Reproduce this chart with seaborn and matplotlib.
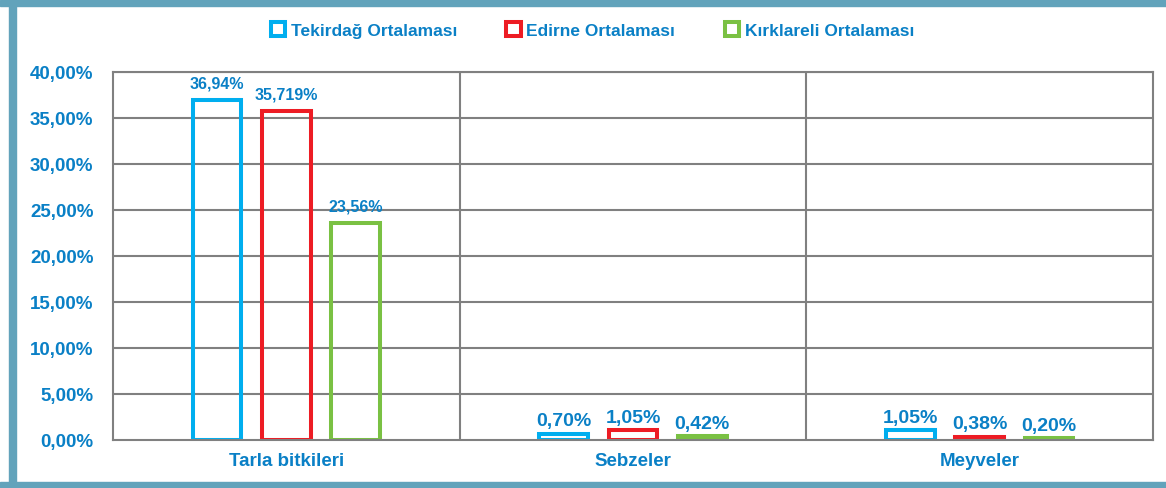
import matplotlib
matplotlib.use("Agg")
import matplotlib.pyplot as plt
from matplotlib.patches import Patch, Rectangle
import seaborn as sns
import pandas as pd

categories = ["Tarla bitkileri", "Sebzeler", "Meyveler"]
series_names = ["Tekirdağ Ortalaması", "Edirne Ortalaması", "Kırklareli Ortalaması"]
tekirdag = [36.94, 0.70, 1.05]
edirne = [35.719, 1.05, 0.38]
kirklareli = [23.56, 0.42, 0.20]
tekirdag_labels = ["36,94%", "0,70%", "1,05%"]
edirne_labels = ["35,719%", "1,05%", "0,38%"]
kirklareli_labels = ["23,56%", "0,42%", "0,20%"]
y_ticks = [0, 5, 10, 15, 20, 25, 30, 35, 40]
y_tick_labels = ["0,00%", "5,00%", "10,00%", "15,00%", "20,00%", "25,00%", "30,00%", "35,00%", "40,00%"]

colors = ["#00aeef", "#ed1c24", "#7ac143"]
text_color = "#0a80c6"
grid_color = "#808080"

rows = []
for name, vals in zip(series_names, [tekirdag, edirne, kirklareli]):
    for c, v in zip(categories, vals):
        rows.append({"category": c, "series": name, "value": v})
df = pd.DataFrame(rows)

sns.set_theme(style="white")
plt.rcParams["font.family"] = ["Liberation Sans", "DejaVu Sans"]
plt.rcParams["font.weight"] = "bold"

fig = plt.figure(figsize=(11.66, 4.89), dpi=100)
W, H = 1166, 489
ax = fig.add_axes([113 / W, 1 - 441 / H, (1153 - 113) / W, (441 - 73) / H])

sns.barplot(data=df, x="category", y="value", hue="series", order=categories,
            hue_order=series_names, palette=colors, fill=False, linewidth=2.9,
            width=0.6, gap=0.3, ax=ax, legend=False, errorbar=None)

ax.set_ylim(0, 40)
ax.set_xlim(-0.5, 2.5)
ax.set_yticks(y_ticks)
ax.set_yticklabels(y_tick_labels, color=text_color, fontsize=13.5, fontweight="bold")
ax.set_xticks(range(len(categories)))
ax.set_xticklabels(categories, color=text_color, fontsize=13.5, fontweight="bold")
ax.tick_params(axis="y", length=0, pad=14)
ax.tick_params(axis="x", length=0, pad=9)
ax.set_xlabel("")
ax.set_ylabel("")

for y in y_ticks[1:]:
    ax.axhline(y, color=grid_color, lw=1.5, zorder=0)
for x in [0.5, 1.5]:
    ax.axvline(x, color=grid_color, lw=1.5, zorder=0)
for s in ax.spines.values():
    s.set_color(grid_color)
    s.set_linewidth(1.5)
    s.set_visible(True)

all_labels = [tekirdag_labels, edirne_labels, kirklareli_labels]
for cont, labs in zip(ax.containers, all_labels):
    texts = ax.bar_label(cont, labels=labs, padding=3, color=text_color,
                         fontweight="bold", fontsize=14)
    texts[0].set_fontsize(11.5)
    texts[0].xyann = (0, 7)

handles = [Patch(facecolor="white", edgecolor=c, linewidth=2.9) for c in colors]
fig.legend(handles, series_names, loc="center", bbox_to_anchor=(0.508, 1 - 31 / H),
           ncol=3, frameon=False, handlelength=0.85, handleheight=0.85,
           handletextpad=0.3, columnspacing=2.85, labelcolor=text_color,
           prop={"weight": "bold", "size": 12.5})

border = "#62a3bb"
fig.patches.append(Rectangle((0, 1 - 7 / H), 1, 6 / H, transform=fig.transFigure,
                             color=border, zorder=10))
fig.patches.append(Rectangle((9 / W, 0), 7 / W, 1 - 1 / H, transform=fig.transFigure,
                             color=border, zorder=10))
fig.patches.append(Rectangle((0, 0), 1, 6 / H, transform=fig.transFigure,
                             color=border, zorder=10))

fig.savefig("out.png", dpi=100)
